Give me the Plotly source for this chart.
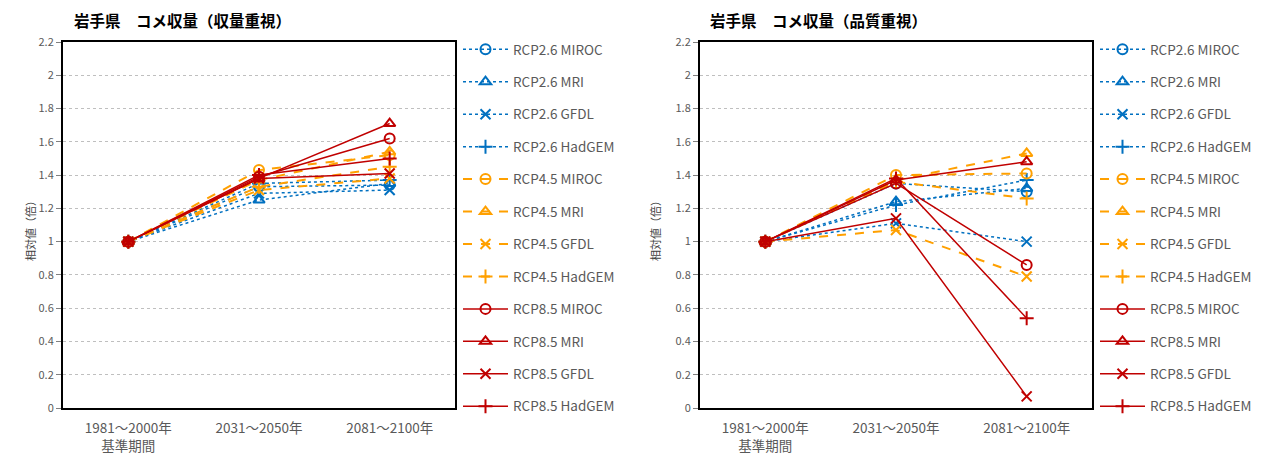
import plotly.graph_objects as go

# page has an 8px body margin, so the figure is drawn 8px smaller and coordinates are shifted
W, H = 1254, 447

periods = ["1981～2000年<br>基準期間", "2031～2050年", "2081～2100年"]
series_names = [
    "RCP2.6 MIROC", "RCP2.6 MRI", "RCP2.6 GFDL", "RCP2.6 HadGEM",
    "RCP4.5 MIROC", "RCP4.5 MRI", "RCP4.5 GFDL", "RCP4.5 HadGEM",
    "RCP8.5 MIROC", "RCP8.5 MRI", "RCP8.5 GFDL", "RCP8.5 HadGEM",
]

# 収量重視 (left)
yield_rcp26_miroc = [1.0, 1.33, 1.34]
yield_rcp26_mri = [1.0, 1.25, 1.35]
yield_rcp26_gfdl = [1.0, 1.29, 1.31]
yield_rcp26_hadgem = [1.0, 1.35, 1.37]
yield_rcp45_miroc = [1.0, 1.43, 1.52]
yield_rcp45_mri = [1.0, 1.37, 1.54]
yield_rcp45_gfdl = [1.0, 1.31, 1.38]
yield_rcp45_hadgem = [1.0, 1.33, 1.45]
yield_rcp85_miroc = [1.0, 1.39, 1.62]
yield_rcp85_mri = [1.0, 1.38, 1.71]
yield_rcp85_gfdl = [1.0, 1.38, 1.41]
yield_rcp85_hadgem = [1.0, 1.40, 1.50]

# 品質重視 (right)
quality_rcp26_miroc = [1.0, 1.35, 1.30]
quality_rcp26_mri = [1.0, 1.24, 1.32]
quality_rcp26_gfdl = [1.0, 1.11, 1.00]
quality_rcp26_hadgem = [1.0, 1.22, 1.37]
quality_rcp45_miroc = [1.0, 1.40, 1.41]
quality_rcp45_mri = [1.0, 1.37, 1.53]
quality_rcp45_gfdl = [1.0, 1.07, 0.79]
quality_rcp45_hadgem = [1.0, 1.36, 1.26]
quality_rcp85_miroc = [1.0, 1.35, 0.86]
quality_rcp85_mri = [1.0, 1.37, 1.48]
quality_rcp85_gfdl = [1.0, 1.14, 0.07]
quality_rcp85_hadgem = [1.0, 1.38, 0.54]

yield_values = [
    yield_rcp26_miroc, yield_rcp26_mri, yield_rcp26_gfdl, yield_rcp26_hadgem,
    yield_rcp45_miroc, yield_rcp45_mri, yield_rcp45_gfdl, yield_rcp45_hadgem,
    yield_rcp85_miroc, yield_rcp85_mri, yield_rcp85_gfdl, yield_rcp85_hadgem,
]
quality_values = [
    quality_rcp26_miroc, quality_rcp26_mri, quality_rcp26_gfdl, quality_rcp26_hadgem,
    quality_rcp45_miroc, quality_rcp45_mri, quality_rcp45_gfdl, quality_rcp45_hadgem,
    quality_rcp85_miroc, quality_rcp85_mri, quality_rcp85_gfdl, quality_rcp85_hadgem,
]

# styles per scenario / model
scen_style = {
    "RCP2.6": dict(color="#0070C0", dash="dot", width=1.5),
    "RCP4.5": dict(color="#FFA000", dash="dash", width=2),
    "RCP8.5": dict(color="#C00000", dash="solid", width=1.5),
}
model_symbol = {
    "MIROC": "circle-open",
    "MRI": "triangle-up-open",
    "GFDL": "x-thin-open",
    "HadGEM": "cross-thin-open",
}

FONT = "Noto Sans CJK JP"

fig = go.Figure()


def add_panel(values, xa, ya, legend):
    for name, vals in zip(series_names, values):
        scen, model = name.split(" ")
        st = scen_style[scen]
        fig.add_trace(go.Scatter(
            x=[0, 1, 2], y=vals, name=name, mode="lines+markers",
            xaxis=xa, yaxis=ya, legend=legend, legendgroup=legend + name,
            line=dict(color=st["color"], dash=st["dash"], width=st["width"]),
            marker=dict(symbol=model_symbol[model], size=10, color=st["color"],
                        line=dict(color=st["color"], width=2)),
        ))


add_panel(yield_values, "x", "y", "legend")
add_panel(quality_values, "x2", "y2", "legend2")

ydom = [(H - 400) / H, (H - 34) / H]
axis_common_x = dict(
    tickmode="array", tickvals=[0, 1, 2], ticktext=periods, range=[-0.5, 2.5],
    showgrid=False, showline=True, linecolor="black", linewidth=2, mirror=True,
    tickfont=dict(size=13.5, color="#595959", family=FONT), ticks="", automargin=False,
    ticklabelstandoff=7,
)
axis_common_y = dict(
    range=[0, 2.2], dtick=0.2, showgrid=True, gridcolor="#BFBFBF", griddash="dot",
    gridwidth=1, showline=True, linecolor="black", linewidth=2, mirror=True,
    ticks="outside", ticklen=5, tickcolor="#808080", zeroline=False, automargin=False,
    tickfont=dict(size=11, color="#595959", family=FONT),
)

legend_common = dict(
    yanchor="top", y=(H - 26) / H, xanchor="left",
    font=dict(size=13.5, color="#595959", family=FONT),
    tracegroupgap=11.9, bgcolor="rgba(0,0,0,0)", itemwidth=45,
)


def label(text, x, y, size, color, angle=0, anchor="left"):
    return dict(text=text, xref="paper", yref="paper", x=x / W, y=(H - y) / H,
                xanchor=anchor, yanchor="middle", showarrow=False, textangle=angle,
                font=dict(size=size, color=color, family=FONT))


fig.update_layout(
    width=W, height=H, plot_bgcolor="white", paper_bgcolor="white",
    margin=dict(l=0, r=0, t=0, b=0),
    font=dict(family=FONT),
    xaxis=dict(domain=[55 / W, 447 / W], anchor="y", **axis_common_x),
    yaxis=dict(domain=ydom, anchor="x", **axis_common_y),
    xaxis2=dict(domain=[692 / W, 1084 / W], anchor="y2", **axis_common_x),
    yaxis2=dict(domain=ydom, anchor="x2", **axis_common_y),
    legend=dict(x=450 / W, **legend_common),
    legend2=dict(x=1087 / W, **legend_common),
    annotations=[
        label("<b>岩手県　コメ収量（収量重視）</b>", 64, 12, 15.5, "black"),
        label("<b>岩手県　コメ収量（品質重視）</b>", 700, 12, 15.5, "black"),
        label("相対値（倍）", 22, 220, 11, "#404040", angle=-90, anchor="center"),
        label("相対値（倍）", 647, 220, 11, "#404040", angle=-90, anchor="center"),
    ],
)

fig.write_html("out.html")
